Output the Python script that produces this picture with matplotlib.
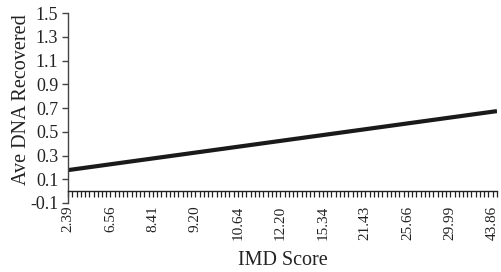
import matplotlib
matplotlib.use("Agg")
import matplotlib.pyplot as plt
import numpy as np

# ---- data ----
n_categories = 102                      # number of IMD score categories (ordered)
label_step = 10                         # a label every 10th category
x_tick_labels = ["2.39", "6.56", "8.41", "9.20", "10.64", "12.20",
                 "15.34", "21.43", "25.66", "29.99", "43.86"]
trend_values = [0.177, 0.674]           # linear trend: first and last category
y_ticks = [-0.1, 0.1, 0.3, 0.5, 0.7, 0.9, 1.1, 1.3, 1.5]
y_tick_labels = ["-0.1", "0.1", "0.3", "0.5", "0.7", "0.9", "1.1", "1.3", "1.5"]

plt.rcParams['font.family'] = ['Liberation Serif', 'DejaVu Serif']

fig = plt.figure(figsize=(5.02, 2.72), dpi=100)
ax = fig.add_axes([0.1355, 0.2537, 0.8545, 0.6983])

cat_idx = np.arange(n_categories)
ax.plot([cat_idx[0], cat_idx[-1]], trend_values, color='#1a1a1a',
        lw=3.0, solid_capstyle='butt')

ax.set_xlim(cat_idx[0], cat_idx[-1])
ax.set_ylim(y_ticks[0], y_ticks[-1])

for s in ['top', 'right']:
    ax.spines[s].set_visible(False)
ax.spines['left'].set_color('#444444')
ax.spines['left'].set_linewidth(1.0)
ax.spines['bottom'].set_position(('data', 0))
ax.spines['bottom'].set_color('#222222')
ax.spines['bottom'].set_linewidth(1.0)

ax.set_yticks(y_ticks)
ax.set_yticklabels(y_tick_labels)
ax.tick_params(axis='y', direction='out', length=4, width=1.0,
               color='#444444', labelsize=13, pad=3, labelcolor='#222222')

major_pos = cat_idx[::label_step][:len(x_tick_labels)]
ax.set_xticks(major_pos)
ax.set_xticklabels(x_tick_labels, rotation=90, va='top', ha='center')
ax.set_xticks(cat_idx, minor=True)
ax.tick_params(axis='x', which='both', direction='out', length=4.5,
               width=0.9, color='#222222')
ax.tick_params(axis='x', which='major', labelsize=11, pad=6,
               labelcolor='#222222')

ax.set_ylabel("Ave DNA Recovered", fontsize=14.5, color='#222222')
ax.yaxis.set_label_coords(-0.086, 0.542)
ax.set_xlabel("IMD Score", fontsize=14.5, color='#222222')
ax.xaxis.set_label_coords(0.5, -0.252)

fig.savefig("out.png", dpi=100)
